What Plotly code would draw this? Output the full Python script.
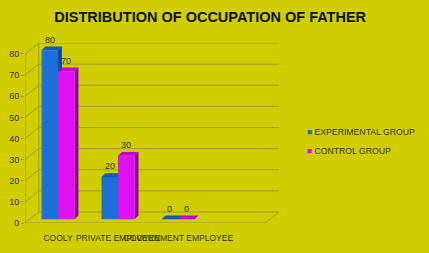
import plotly.graph_objects as go

categories = ["COOLY", "PRIVATE EMPLOYEE", "GOVERNMENT EMPLOYEE"]
experimental = [80, 20, 0]
control = [70, 30, 0]
series_names = ["EXPERIMENTAL GROUP", "CONTROL GROUP"]
colors = ["#1C6FD8", "#DE10F0"]
side_colors = ["#0B4A9C", "#9000A6"]
top_colors = ["#1159BC", "#C200D6"]
y_ticks = [0, 10, 20, 30, 40, 50, 60, 70, 80]

BG = "rgb(208,206,0)"
GRID = "#A29C3A"
FONT = "Liberation Sans, Arial, sans-serif"
pos = list(range(len(categories)))

# layout geometry (axis units)
X0, X1 = -0.55, 3.45          # front floor extent
WALL_DX, WALL_DY = 0.23, 5.2   # back-wall offset
BAR_DX, BAR_DY = 0.065, 1.8    # bar depth
BASE = 1.8                     # bars stand in the middle of the floor depth
BARGAP = 0.45
bw = (1 - BARGAP) / 2

fig = go.Figure()
for i, (vals, name, col) in enumerate(zip([experimental, control], series_names, colors)):
    fig.add_trace(go.Bar(x=pos, y=vals, base=[BASE] * len(vals), name=name, showlegend=False,
                         marker=dict(color=col, line=dict(width=0)), cliponaxis=False))
# legend entries (swatch drawn as coloured glyph in the label)
for name, col in zip(series_names, colors):
    fig.add_trace(go.Scatter(x=[None], y=[None], mode="markers",
                             name=f'<span style="color:{col}">■</span> {name}',
                             marker=dict(size=1, color="rgba(0,0,0,0)")))

shapes = []
# back wall gridlines + left wall diagonals
for v in y_ticks:
    shapes.append(dict(type="path", layer="below",
                       path=f"M {X0},{v} L {X0+WALL_DX},{v+WALL_DY} L {X1+WALL_DX},{v+WALL_DY}",
                       line=dict(color=GRID, width=1)))
# floor front edge and right edge
shapes.append(dict(type="path", layer="below",
                   path=f"M {X0},0 L {X1},0 L {X1+WALL_DX},{WALL_DY}",
                   line=dict(color=GRID, width=1)))
# left wall vertical edges
shapes.append(dict(type="line", layer="below", x0=X0, x1=X0, y0=0, y1=max(y_ticks),
                   line=dict(color=GRID, width=1)))
shapes.append(dict(type="line", layer="below", x0=X0+WALL_DX, x1=X0+WALL_DX, y0=WALL_DY,
                   y1=max(y_ticks)+WALL_DY, line=dict(color=GRID, width=1)))

annotations = []
for i, vals in enumerate([experimental, control]):
    for p, v in zip(pos, vals):
        left = p - bw + i * bw
        right = left + bw
        top = v + BASE
        # top face
        shapes.append(dict(type="path", layer="below",
                           path=(f"M {left},{top} L {left+BAR_DX},{top+BAR_DY} "
                                 f"L {right+BAR_DX},{top+BAR_DY} L {right},{top} Z"),
                           fillcolor=top_colors[i], line=dict(width=0)))
        # side face
        if v > 0:
            shapes.append(dict(type="path", layer="below",
                               path=(f"M {right},{BASE} L {right+BAR_DX},{BASE+BAR_DY} "
                                     f"L {right+BAR_DX},{top+BAR_DY} L {right},{top} Z"),
                               fillcolor=side_colors[i], line=dict(width=0)))
        annotations.append(dict(x=(left + right) / 2, y=top, text=str(v), showarrow=False,
                                yshift=10.5, font=dict(size=9, color="#333")))

fig.update_layout(
    width=429, height=253,
    paper_bgcolor=BG, plot_bgcolor="rgba(0,0,0,0)",
    margin=dict(l=25, r=150, t=43, b=30, autoexpand=False),
    barmode="group", bargap=BARGAP, bargroupgap=0,
    title=dict(text="<b>DISTRIBUTION OF OCCUPATION OF FATHER</b>", x=0.49, xanchor="center",
               y=0.935, yanchor="middle", font=dict(family=FONT, size=14.5, color="#111")),
    font=dict(family=FONT, size=9, color="#333"),
    xaxis=dict(range=[X0, X1 + WALL_DX], tickmode="array", tickvals=pos, ticktext=categories,
               tickangle=0, automargin=False, showgrid=False, showline=False, zeroline=False,
               ticks="", ticklabelstandoff=8, tickfont=dict(size=8.5, color="#333"),
               fixedrange=True),
    yaxis=dict(range=[0, max(y_ticks) + WALL_DY], tickvals=y_ticks, showgrid=False,
               showline=False, ticks="outside", ticklen=3, tickcolor=GRID, zeroline=False,
               automargin=False, tickfont=dict(size=9, color="#333")),
    legend=dict(x=0.952, y=0.455, xanchor="left", yanchor="middle",
                font=dict(size=8.7, color="#333"), bgcolor="rgba(0,0,0,0)",
                itemwidth=30, tracegroupgap=4),
    shapes=shapes,
    annotations=annotations,
    showlegend=True,
)

fig.write_html("out.html")
